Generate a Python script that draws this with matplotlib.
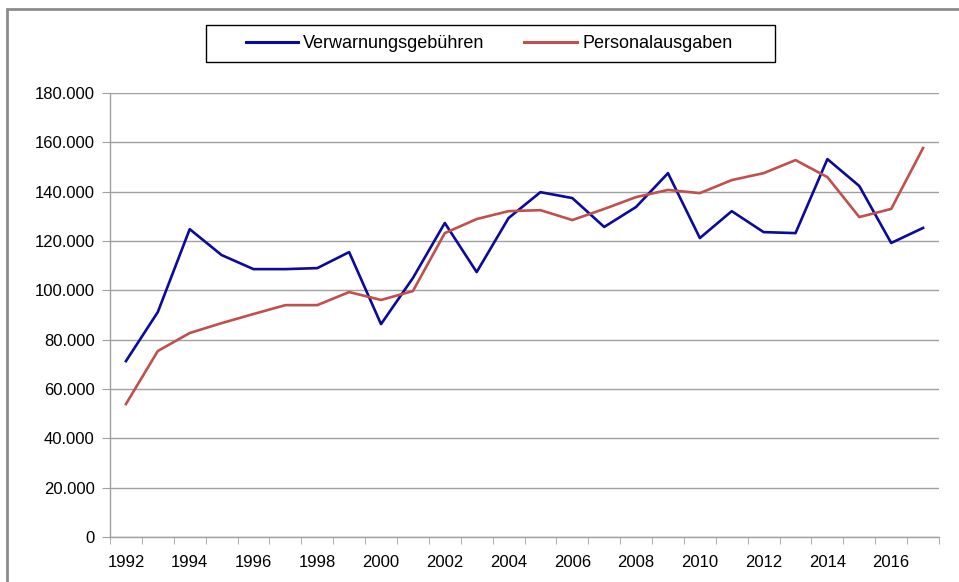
import matplotlib
matplotlib.use("Agg")
import matplotlib.pyplot as plt
from matplotlib.patches import Rectangle
from matplotlib.ticker import FuncFormatter

plt.rcParams['font.family'] = ['Liberation Sans', 'DejaVu Sans']

# data
years = list(range(1992, 2018))
verwarnung = [71300, 91200, 124800, 114300, 108600, 108600, 109000, 115500, 86300, 105000,
              127300, 107400, 129300, 139800, 137400, 125700, 133800, 147500, 121200, 132100,
              123600, 123200, 153200, 142300, 119200, 125300]
personal = [53900, 75400, 82700, 86700, 90400, 94000, 94000, 99300, 96100, 99700,
            123200, 128900, 132100, 132500, 128500, 133000, 137800, 140700, 139400, 144700,
            147500, 152800, 145900, 129700, 133000, 157700]
yticks = list(range(0, 180001, 20000))

W, H = 959, 582
fig = plt.figure(figsize=(W / 100, H / 100), dpi=100)
ax = fig.add_axes([110/W, 1 - 537/H, 829/W, 444/H])

x = list(range(len(years)))
ax.plot(x, verwarnung, color='#0A0A9C', lw=1.9, label='Verwarnungsgebühren')
ax.plot(x, personal, color='#C0504D', lw=1.9, label='Personalausgaben')

ax.set_xlim(-0.5, len(years) - 0.5)
ax.set_ylim(0, 180000)
ax.set_yticks(yticks)
ax.yaxis.set_major_formatter(FuncFormatter(lambda v, p: f"{int(v):,}".replace(',', '.')))
ax.grid(axis='y', color='#A0A0A0', lw=1.0)
ax.set_axisbelow(True)

# labels on every second category, tick marks on category boundaries
ax.set_xticks(x[::2])
ax.set_xticklabels([str(y) for y in years[::2]])
ax.set_xticks([i - 0.5 for i in range(len(years) + 1)], minor=True)
ax.tick_params(axis='x', which='major', length=0, pad=13)
ax.tick_params(axis='x', which='minor', length=5, color='#A0A0A0', direction='out')
ax.tick_params(axis='y', length=6, color='#A0A0A0', pad=5)
ax.tick_params(labelsize=12, labelcolor='#000000')

for s in ['top', 'right']:
    ax.spines[s].set_visible(False)
for s in ['left', 'bottom']:
    ax.spines[s].set_color('#A0A0A0')
    ax.spines[s].set_linewidth(1.0)

# legend with its own box
leg = fig.legend(loc='center', bbox_to_anchor=(489/W, 1 - 44/H), ncol=2, frameon=False,
                 fontsize=13, handlelength=2.9, handletextpad=0.3, columnspacing=2.2)
for line in leg.get_lines():
    line.set_linewidth(2.2)
fig.patches.append(Rectangle((206/W, 1 - 62/H), 569/W, 37/H, transform=fig.transFigure,
                             fill=False, edgecolor='#000000', lw=1.0))

# outer chart frame
fig.patches.append(Rectangle((7/W, -0.1), 1.2, 1.1 - 9/H, transform=fig.transFigure,
                             fill=False, edgecolor='#8C8C8C', lw=2.0))

fig.savefig('out.png', dpi=100)
